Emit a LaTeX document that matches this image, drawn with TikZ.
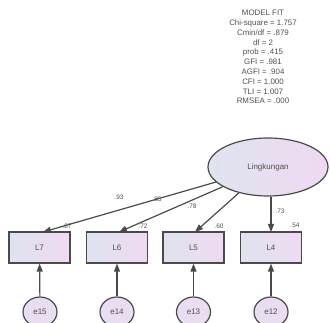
\documentclass[tikz,border=0pt]{standalone}
\usepackage{fontspec}
\setmainfont{Liberation Sans}
\usetikzlibrary{shapes.geometric,arrows.meta}
\definecolor{txt}{HTML}{505050}
\definecolor{edge}{HTML}{4A4A4A}
\definecolor{lblue}{HTML}{DFE4EE}
\definecolor{lpink}{HTML}{EFD9F2}
\definecolor{epink}{HTML}{E9DDF1}
\tikzset{
  obs/.style={draw=edge, line width=1.2pt, minimum width=61pt, minimum height=31pt, inner sep=0pt,
    left color=lblue, right color=lpink, text=txt, font=\fontsize{8}{9}\selectfont},
  lat/.style={ellipse, draw=edge, line width=1.2pt, minimum width=120pt, minimum height=58pt, inner sep=0pt,
    left color=lblue, right color=lpink, text=txt, font=\fontsize{8}{9}\selectfont},
  err/.style={ellipse, draw=edge, line width=1.2pt, minimum width=34pt, minimum height=30pt, inner sep=0pt,
    fill=epink, text=txt, font=\fontsize{8}{9}\selectfont},
  path/.style={draw=edge, line width=1.2pt, -{Triangle[length=8pt,width=6pt]}},
  coef/.style={text=txt, font=\fontsize{6.5}{7}\selectfont, inner sep=0pt},
}
\begin{document}
\begin{tikzpicture}[x=1pt,y=-1pt]
\useasboundingbox (0,0) rectangle (330,323);
\node[align=center, text=txt, font=\fontsize{7.9}{9.8}\selectfont, inner sep=0pt, anchor=north] (fit) at (263,10)
 {MODEL FIT\\Chi-square = 1.757\\Cmin/df = .879\\df = 2\\prob = .415\\GFI = .981\\AGFI = .904\\CFI = 1.000\\TLI = 1.007\\RMSEA = .000};
\node[lat] (F) at (268,167) {Lingkungan};
\node[obs] (L7) at (39.5,247.5) {L7};
\node[obs] (L6) at (117,247.5) {L6};
\node[obs] (L5) at (193.5,247.5) {L5};
\node[obs] (L4) at (271,247.5) {L4};
\node[err] (e15) at (40,312) {e15};
\node[err] (e14) at (117,312) {e14};
\node[err] (e13) at (193.5,312) {e13};
\node[err] (e12) at (271,312) {e12};
\coordinate (t7) at (43,232);
\coordinate (t6) at (119,232);
\coordinate (t5) at (195,232);
\coordinate (t4) at (271,232);
\draw[path] (F) -- (t7);
\draw[path] (F) -- (t6);
\draw[path] (F) -- (t5);
\draw[path] (F.south -| t4) -- (t4);
\foreach \e/\l in {e15/L7,e14/L6,e13/L5,e12/L4} \draw[path] (\e) -- (\l);
\node[coef] (c93) at (119,197) {.93};
\node[coef] (c85) at (157,199) {.85};
\node[coef] (c78) at (192,206) {.78};
\node[coef] (c73) at (280,211) {.73};
\node[coef] (r87) at (67,226) {.87};
\node[coef] (r72) at (143,226) {.72};
\node[coef] (r60) at (219,226) {.60};
\node[coef] (r54) at (295,225) {.54};
\end{tikzpicture}
\end{document}
